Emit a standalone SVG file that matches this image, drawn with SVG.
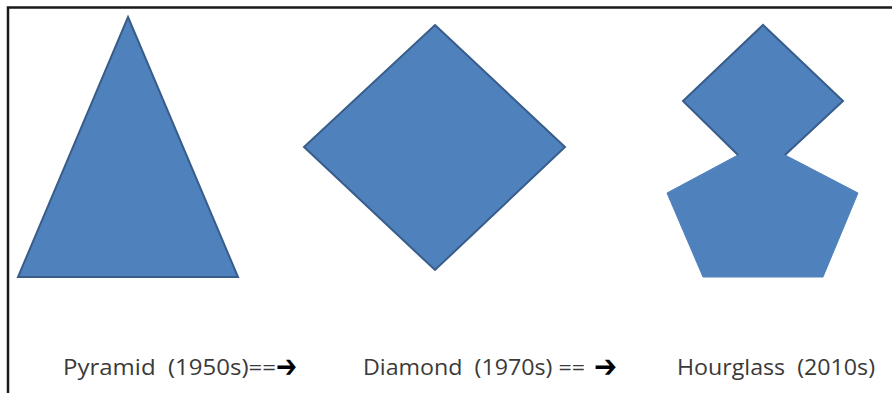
<svg xmlns="http://www.w3.org/2000/svg" width="892" height="393" viewBox="0 0 892 393">
<style>
.shape{fill:#4f81bd;stroke:#385d8a;stroke-width:2;stroke-linejoin:miter}
.lbl{font-family:"Open Sans","Noto Sans","Liberation Sans",sans-serif;font-size:21px;fill:#3a3a3a;white-space:pre}
.arr{font-family:"DejaVu Sans",sans-serif;font-size:31px;font-weight:bold;fill:#000}
.frame{stroke:#1a1a1a;stroke-width:2.5;fill:none}
</style>
<rect width="892" height="393" fill="#fff"/>
<g id="frame">
<path class="frame" d="M8,393 V7.5 H892"/>
</g>
<g id="pyramid">
<polygon class="shape" points="128,17 238,277 18,277"/>
</g>
<g id="diamond">
<polygon class="shape" points="435,25 565,147 435,270 304,147"/>
</g>
<g id="hourglass">
<polygon points="763,25 843,101 785,155 858,193 823,277 703,277 667,193 738,155 683,101" fill="#4f81bd" stroke="#4f81bd" stroke-width="1"/>
<polyline points="738,155 683,101 763,25 843,101 785,155" fill="none" stroke="#385d8a" stroke-width="2"/>
</g>
<g id="labels">
<text class="lbl" x="63" y="375" textLength="213" lengthAdjust="spacingAndGlyphs" xml:space="preserve">Pyramid  (1950s)==</text>
<text class="arr" x="276" y="377" textLength="21" lengthAdjust="spacingAndGlyphs">➔</text>
<text class="lbl" x="363" y="375" textLength="222" lengthAdjust="spacingAndGlyphs" xml:space="preserve">Diamond  (1970s) ==</text>
<text class="arr" x="594" y="377" textLength="23" lengthAdjust="spacingAndGlyphs">➔</text>
<text class="lbl" x="677" y="375" textLength="198" lengthAdjust="spacingAndGlyphs" xml:space="preserve">Hourglass  (2010s)</text>
</g>
</svg>
